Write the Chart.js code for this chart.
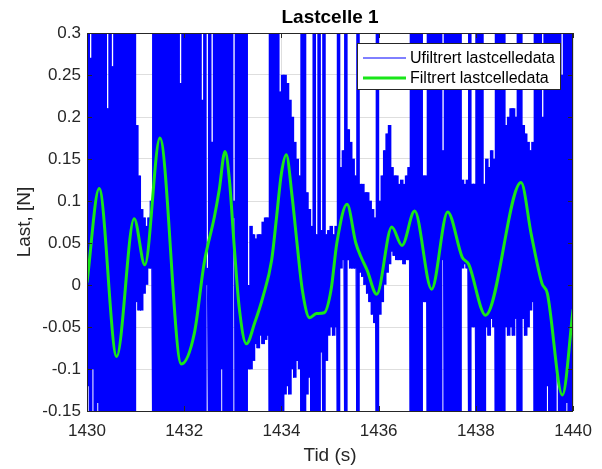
<!DOCTYPE html>
<html>
<head>
<meta charset="utf-8">
<script src="https://cdn.jsdelivr.net/npm/chart.js@4.4.1/dist/chart.umd.min.js"></script>
<style>
  body { margin: 0; background: #fff; }
  canvas { display: block; }
</style>
</head>
<body>
<canvas id="chart" width="602" height="469"></canvas>
<script>
// unfiltered load cell data: for each 0.05 s slot, the lowest and highest value reached
// (0.4 / -0.2 mean the trace runs off the plot)
const slotStart = 1430;
const slotStep = 0.05;
const rawHigh = [
  0.4, 0.27, 0.4, 0.4, 0.33, 0.4, 0.4, 0.4, 0.21, 0.4,
  0.26, 0.4, 0.4, 0.4, 0.4, 0.4, 0.4, 0.4, 0.4, 0.4,
  0.19, 0.13, 0.09, 0.08, 0.07, 0.08, 0.1, 0.4, 0.4, 0.4,
  0.4, 0.4, 0.4, 0.4, 0.4, 0.4, 0.4, 0.4, 0.24, 0.4,
  0.3, 0.4, 0.4, 0.4, 0.4, 0.4, 0.4, 0.22, 0.4, 0.02,
  0.4, 0.17, 0.4, 0.4, 0.4, 0.4, 0.4, 0.4, 0.4, 0.4,
  0.1, 0.4, 0.4, 0.4, 0.4, 0.4, 0.0, 0.07, 0.06, 0.055,
  0.06, 0.06, 0.075, 0.08, 0.08, 0.4, 0.4, 0.4, 0.4, 0.23,
  0.25, 0.25, 0.24, 0.22, 0.2, 0.17, 0.15, 0.13, 0.4, 0.4,
  0.11, 0.09, 0.07, 0.4, 0.06, 0.4, 0.065, 0.4, 0.06, 0.065,
  0.07, 0.06, 0.07, 0.4, 0.14, 0.16, 0.4, 0.185, 0.17, 0.15,
  0.13, 0.4, 0.12, 0.12, 0.11, 0.11, 0.1, 0.09, 0.08, 0.4,
  0.1, 0.13, 0.16, 0.18, 0.19, 0.14, 0.13, 0.13, 0.12, 0.125,
  0.12, 0.13, 0.14, 0.4, 0.4, 0.4, 0.4, 0.4, 0.13, 0.13,
  0.4, 0.4, 0.4, 0.4, 0.4, 0.4, 0.16, 0.4, 0.4, 0.4,
  0.4, 0.4, 0.4, 0.4, 0.125, 0.12, 0.125, 0.4, 0.12, 0.12,
  0.4, 0.4, 0.4, 0.12, 0.15, 0.14, 0.16, 0.15, 0.4, 0.4,
  0.4, 0.4, 0.19, 0.2, 0.21, 0.21, 0.2, 0.4, 0.4, 0.19,
  0.18, 0.17, 0.16, 0.17, 0.4, 0.4, 0.4, 0.2, 0.4, 0.4,
  0.4, 0.4, 0.4, 0.4, 0.4, 0.25, 0.4, 0.4, 0.4, 0.4
];
const rawLow = [
  -0.12, -0.2, -0.1, -0.2, -0.14, -0.2, -0.2, -0.2, -0.2, -0.2,
  -0.2, -0.2, -0.2, -0.2, -0.2, -0.2, -0.2, -0.2, -0.2, -0.2,
  -0.02, -0.03, -0.03, -0.01, 0.0, 0.02, 0.02, -0.2, -0.2, -0.16,
  -0.2, -0.2, -0.2, -0.2, -0.2, -0.2, -0.2, -0.2, -0.2, -0.2,
  -0.2, -0.2, -0.2, -0.2, -0.2, -0.2, -0.2, -0.2, -0.2, 0.0,
  -0.2, -0.2, -0.2, -0.2, -0.2, -0.1, -0.2, -0.2, -0.2, -0.2,
  0.08, -0.2, -0.2, -0.2, -0.2, -0.2, -0.1, -0.1, -0.09, -0.07,
  -0.075, -0.06, -0.07, -0.065, -0.06, -0.2, -0.2, -0.2, -0.2, -0.2,
  -0.15, -0.13, -0.12, -0.13, -0.1, -0.11, -0.09, -0.1, -0.2, -0.2,
  -0.13, -0.11, -0.15, -0.2, -0.2, -0.2, -0.08, -0.2, -0.09, -0.06,
  -0.05, -0.06, -0.05, -0.2, 0.02, 0.03, -0.2, 0.03, 0.02, 0.02,
  0.02, -0.2, 0.015, 0.01, 0.0, -0.01, -0.02, -0.035, -0.045, -0.2,
  -0.035, -0.02, 0.0, 0.015, 0.025, 0.04, 0.035, 0.03, 0.03, 0.03,
  0.025, 0.03, 0.03, -0.2, -0.2, -0.2, -0.2, -0.2, -0.02, -0.02,
  -0.2, -0.2, -0.2, -0.2, -0.2, -0.2, 0.03, -0.2, -0.2, -0.2,
  -0.2, -0.2, -0.2, -0.2, 0.02, 0.025, 0.02, -0.2, -0.05, -0.05,
  -0.2, -0.2, -0.2, -0.2, -0.05, -0.06, -0.04, -0.05, -0.2, -0.2,
  -0.2, -0.2, -0.05, -0.06, -0.05, -0.06, -0.04, -0.2, -0.2, -0.04,
  -0.06, -0.05, -0.03, -0.02, -0.2, -0.2, -0.2, -0.2, -0.2, -0.12,
  -0.2, -0.15, -0.2, -0.1, -0.2, -0.2, -0.2, -0.14, -0.2, -0.2
];

// filtered load cell data
const filtTime = [
  1430.00, 1430.25, 1430.61, 1430.97, 1431.19, 1431.50, 1431.94, 1432.21, 1432.41, 1432.62,
  1432.72, 1432.84, 1432.93, 1433.03, 1433.13, 1433.28, 1433.45, 1433.62, 1433.80, 1433.90,
  1434.00, 1434.10, 1434.22, 1434.32, 1434.43, 1434.58, 1434.72, 1434.88, 1435.02, 1435.14,
  1435.35, 1435.53, 1435.64, 1435.76, 1435.96, 1436.27, 1436.48, 1436.74, 1437.09, 1437.42,
  1437.72, 1437.85, 1438.20, 1438.93, 1439.14, 1439.36, 1439.47, 1439.78, 1440.00
];
const filtValue = [
  0.003, 0.115, -0.085, 0.079, 0.024, 0.175, -0.094, -0.057, 0.026, 0.081,
  0.113, 0.159, 0.125, 0.045, -0.026, -0.070, -0.045, -0.014, 0.030, 0.081,
  0.133, 0.155, 0.105, 0.050, -0.006, -0.039, -0.034, -0.033, -0.006, 0.050,
  0.096, 0.050, 0.033, 0.018, -0.011, 0.069, 0.047, 0.088, -0.005, 0.087,
  0.033, 0.025, -0.036, 0.122, 0.060, 0.002, -0.010, -0.131, -0.029
];

const xTicks = [1430, 1432, 1434, 1436, 1438, 1440];
const yTicks = [-0.15, -0.1, -0.05, 0, 0.05, 0.1, 0.15, 0.2, 0.25, 0.3];
const seriesNames = ['Ufiltrert lastcelledata', 'Filtrert lastcelledata'];
const chartTitle = 'Lastcelle 1';

const rawColor = '#0000ff';
const filtColor = '#19e619';
const axisColor = '#262626';
const FONT = "'Liberation Sans', Arial, Helvetica, sans-serif";

// zigzag trace through each slot's low and high, plus a filled band per slot
const rawData = [];
const rawBand = [];
rawLow.forEach((lo, i) => {
  const t = slotStart + i * slotStep;
  rawData.push({ x: t, y: lo });
  rawData.push({ x: t + slotStep / 2, y: rawHigh[i] });
  rawBand.push({ x: t + slotStep / 2, y: [lo, rawHigh[i]] });
});
const filtData = filtTime.map((t, i) => ({ x: t, y: filtValue[i] }));

// title over the plot box, axes box, inward tick marks and the legend (matlab style)
const boxPlugin = {
  id: 'boxPlugin',
  afterDatasetsDraw(chart) {
    const { ctx, chartArea: a, scales } = chart;
    const l = Math.round(a.left), r = Math.round(a.right);
    const t = Math.round(a.top), b = Math.round(a.bottom);
    ctx.save();
    ctx.strokeStyle = axisColor;
    ctx.lineWidth = 1;
    ctx.beginPath();
    xTicks.forEach(v => {
      const px = Math.round(scales.x.getPixelForValue(v)) + 0.5;
      ctx.moveTo(px, b); ctx.lineTo(px, b - 5);
      ctx.moveTo(px, t); ctx.lineTo(px, t + 5);
    });
    yTicks.forEach(v => {
      const py = Math.round(scales.y.getPixelForValue(v)) + 0.5;
      ctx.moveTo(l, py); ctx.lineTo(l + 5, py);
      ctx.moveTo(r, py); ctx.lineTo(r - 5, py);
    });
    ctx.stroke();
    ctx.strokeRect(l + 0.5, t + 0.5, r - l - 1, b - t);

    // title
    ctx.fillStyle = '#000';
    ctx.font = 'bold 19px ' + FONT;
    ctx.textAlign = 'center';
    ctx.textBaseline = 'middle';
    ctx.fillText(chartTitle, (a.left + a.right) / 2, t - 15);

    // legend
    const lx = r - 216, ly = t + 10, lw = 203, lh = 46;
    ctx.fillStyle = '#fff';
    ctx.fillRect(lx, ly, lw, lh);
    ctx.strokeStyle = axisColor;
    ctx.strokeRect(lx + 0.5, ly + 0.5, lw, lh);
    const rows = [
      { name: seriesNames[0], color: rawColor, width: 1, y: ly + 15 },
      { name: seriesNames[1], color: filtColor, width: 3, y: ly + 35 }
    ];
    ctx.font = '16px ' + FONT;
    ctx.textBaseline = 'middle';
    ctx.textAlign = 'left';
    rows.forEach(row => {
      ctx.strokeStyle = row.color;
      ctx.lineWidth = row.width;
      ctx.beginPath();
      ctx.moveTo(lx + 6, row.y);
      ctx.lineTo(lx + 49, row.y);
      ctx.stroke();
      ctx.fillStyle = '#000';
      ctx.fillText(row.name, lx + 53, row.y + 1);
    });
    ctx.restore();
  }
};

new Chart(document.getElementById('chart'), {
  type: 'line',
  data: {
    datasets: [
      {
        type: 'bar',
        label: seriesNames[0] + ' band',
        data: rawBand,
        backgroundColor: rawColor,
        borderWidth: 0,
        barThickness: 2.9,
        grouped: false,
        clip: 0,
        order: 2
      },
      {
        label: seriesNames[0],
        data: rawData,
        borderColor: rawColor,
        borderWidth: 1,
        pointRadius: 0,
        tension: 0,
        clip: 0,
        order: 1
      },
      {
        label: seriesNames[1],
        data: filtData,
        borderColor: filtColor,
        borderWidth: 3,
        pointRadius: 0,
        cubicInterpolationMode: 'monotone',
        clip: 0,
        order: 0
      }
    ]
  },
  options: {
    responsive: false,
    animation: false,
    events: [],
    layout: { padding: { left: 0, right: 27, top: 33, bottom: 0 } },
    plugins: {
      legend: { display: false },
      tooltip: { enabled: false },
      title: { display: false }
    },
    scales: {
      x: {
        type: 'linear',
        min: 1430,
        max: 1440,
        offset: false,
        afterFit: s => { s.height = 58; },
        afterBuildTicks: s => { s.ticks = xTicks.map(v => ({ value: v })); },
        ticks: {
          color: axisColor,
          font: { family: FONT, size: 17 },
          padding: 10,
          maxRotation: 0,
          callback: v => String(v)
        },
        grid: { color: '#dedede', drawTicks: false, offset: false },
        border: { display: false },
        title: {
          display: true,
          text: 'Tid (s)',
          color: axisColor,
          font: { family: FONT, size: 19 },
          padding: { top: 0, bottom: 2 }
        }
      },
      y: {
        min: -0.15,
        max: 0.3,
        afterFit: s => { s.width = 87; },
        afterBuildTicks: s => { s.ticks = yTicks.map(v => ({ value: v })); },
        ticks: {
          color: axisColor,
          font: { family: FONT, size: 17 },
          padding: 6,
          callback: v => String(Number(v.toFixed(2)))
        },
        grid: { color: '#dedede', drawTicks: false },
        border: { display: false },
        title: {
          display: true,
          text: 'Last, [N]',
          color: axisColor,
          font: { family: FONT, size: 19 },
          padding: { top: 13, bottom: 0 }
        }
      }
    }
  },
  plugins: [boxPlugin]
});
</script>
</body>
</html>
